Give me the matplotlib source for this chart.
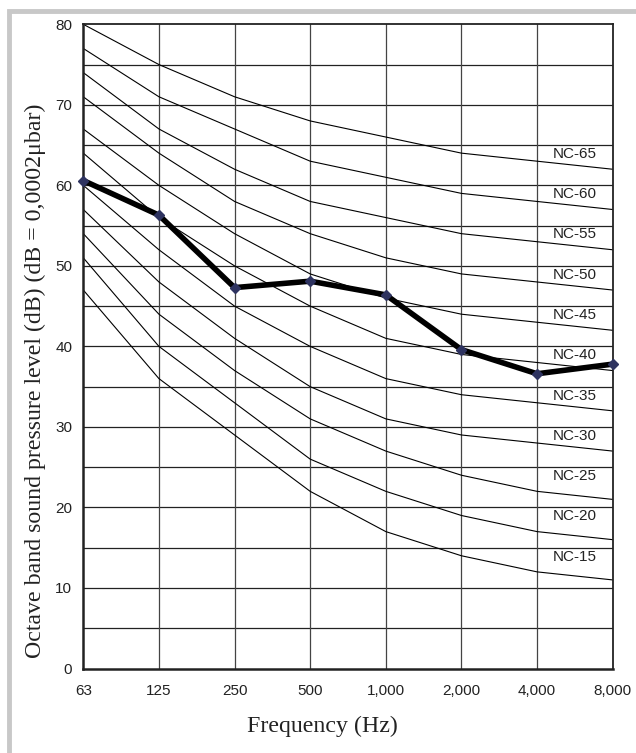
import matplotlib
matplotlib.use("Agg")
import matplotlib.pyplot as plt
from matplotlib.patches import Rectangle

freq_labels = ["63", "125", "250", "500", "1,000", "2,000", "4,000", "8,000"]
nc_names = ["NC-15", "NC-20", "NC-25", "NC-30", "NC-35", "NC-40",
            "NC-45", "NC-50", "NC-55", "NC-60", "NC-65"]
nc15 = [47, 36, 29, 22, 17, 14, 12, 11]
nc20 = [51, 40, 33, 26, 22, 19, 17, 16]
nc25 = [54, 44, 37, 31, 27, 24, 22, 21]
nc30 = [57, 48, 41, 35, 31, 29, 28, 27]
nc35 = [60, 52, 45, 40, 36, 34, 33, 32]
nc40 = [64, 56, 50, 45, 41, 39, 38, 37]
nc45 = [67, 60, 54, 49, 46, 44, 43, 42]
nc50 = [71, 64, 58, 54, 51, 49, 48, 47]
nc55 = [74, 67, 62, 58, 56, 54, 53, 52]
nc60 = [77, 71, 67, 63, 61, 59, 58, 57]
nc65 = [80, 75, 71, 68, 66, 64, 63, 62]
nc_curves = [nc15, nc20, nc25, nc30, nc35, nc40, nc45, nc50, nc55, nc60, nc65]
nc_levels = [15, 20, 25, 30, 35, 40, 45, 50, 55, 60, 65]
measured = [60.6, 56.3, 47.3, 48.1, 46.4, 39.6, 36.6, 37.8]
y_ticks = [0, 10, 20, 30, 40, 50, 60, 70, 80]

fig = plt.figure(figsize=(6.36, 7.53), dpi=100)
W, H = 636, 753

# gray frame
fig.patches.append(Rectangle((9 / W, -0.1), 1.2, (H - 11.5) / H + 0.1,
                             transform=fig.transFigure, fill=False,
                             edgecolor="#c8c8c8", linewidth=3.5, zorder=0))

left, right, top, bottom = 83.3, 612.7, 24.3, 668.5
ax = fig.add_axes([left / W, (H - bottom) / H, (right - left) / W, (bottom - top) / H])

x = list(range(len(freq_labels)))
ax.set_xlim(0, len(freq_labels) - 1)
ax.set_ylim(0, 80)

# grid
for yv in range(5, 80, 5):
    ax.axhline(yv, color="#222222", linewidth=0.9, zorder=1)
for xv in x[1:-1]:
    ax.axvline(xv, color="#444444", linewidth=0.9, zorder=1)

for curve in nc_curves:
    ax.plot(x, curve, color="black", linewidth=0.8, zorder=2)

for name, lvl in zip(nc_names, nc_levels):
    ax.text(6.5, lvl - 1.1, name, ha="center", va="center",
            fontsize=11, family="Liberation Sans", color="#222222", zorder=3)

ax.plot(x, measured, color="black", linewidth=4, zorder=4,
        solid_joinstyle="miter")
ax.plot(x, measured, linestyle="none", marker="D", markersize=5,
        color="#2e3360", zorder=5, clip_on=False)

ax.set_xticks(x)
ax.set_xticklabels(freq_labels, family="Liberation Sans", fontsize=11, color="#222222")
ax.set_yticks(y_ticks)
ax.set_yticklabels([str(v) for v in y_ticks], family="Liberation Sans",
                   fontsize=11, color="#222222")
ax.tick_params(length=0, pad=8)
ax.tick_params(axis="x", pad=11)

for s in ["left", "bottom"]:
    ax.spines[s].set_linewidth(1.8)
for s in ["top", "right"]:
    ax.spines[s].set_linewidth(1.3)
for s in ax.spines.values():
    s.set_color("#222222")

fig.text(322 / W, 1 - 726 / H, "Frequency (Hz)", family="Liberation Serif",
         fontsize=17.2, color="#222222", ha="center", va="center")
fig.text(35 / W, 1 - 381 / H,
         "Octave band sound pressure level (dB) (dB = 0,0002\u03bcbar)",
         family="Liberation Serif", fontsize=17.2, color="#222222",
         ha="center", va="center", rotation=90)

fig.savefig("out.png", dpi=100)
